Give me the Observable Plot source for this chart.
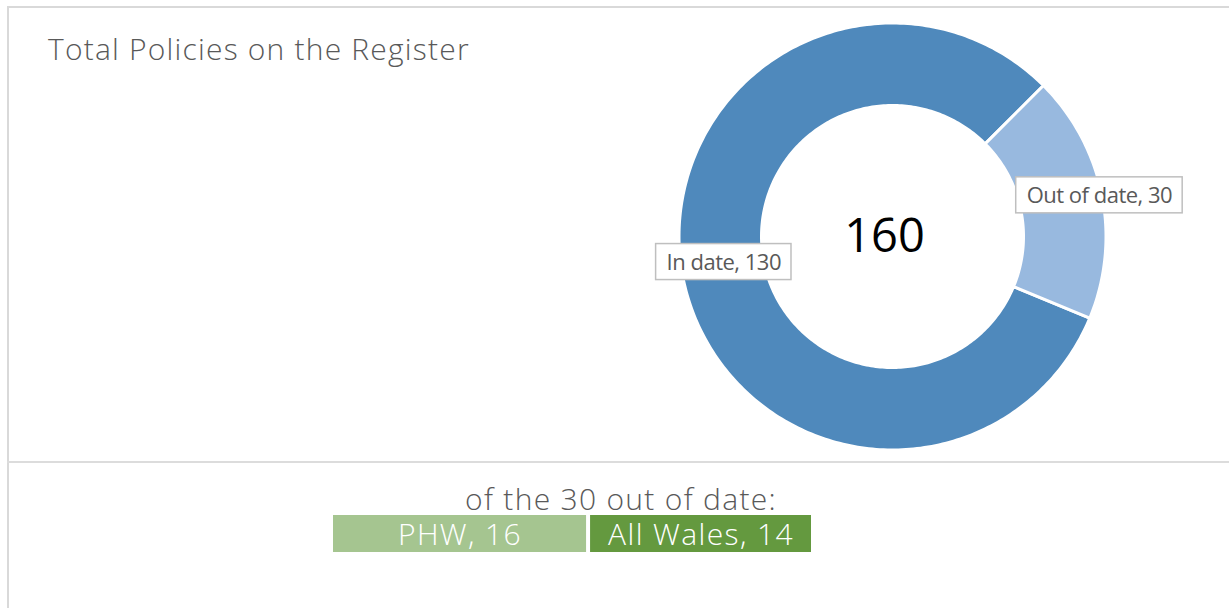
<!DOCTYPE html>
<html>
<head>
<meta charset="utf-8">
<script src="https://cdn.jsdelivr.net/npm/d3@7"></script>
<script src="https://cdn.jsdelivr.net/npm/@observablehq/plot@0.6"></script>
<style>
  html, body { margin: 0; padding: 0; background: #fff; }
  body { width: 1229px; height: 608px; position: relative; overflow: hidden; font-family: "Open Sans", sans-serif; }
  .frame-top { position: absolute; left: 7px; top: 6px; width: 1222px; height: 2px; background: #d9d9d9; }
  .frame-left { position: absolute; left: 7px; top: 6px; width: 2px; height: 602px; background: #d9d9d9; }
  .divider { position: absolute; left: 7px; top: 461px; width: 1222px; height: 2px; background: #dcdcdc; }
  .title { position: absolute; left: 48px; top: 34px; font-size: 30px; line-height: 30px; font-weight: 300; color: #595959; white-space: nowrap; letter-spacing: 1.2px; }
  .sub { position: absolute; left: 421px; top: 486px; width: 400px; text-align: center; font-size: 30px; line-height: 26px; font-weight: 300; color: #595959; white-space: nowrap; letter-spacing: 1.3px; }
  #donut { position: absolute; left: 591.5px; top: 5.5px; }
  #bar { position: absolute; left: 331px; top: 515px; }
</style>
</head>
<body>
<div class="frame-top"></div>
<div class="frame-left"></div>
<div class="divider"></div>
<div class="title">Total Policies on the Register</div>
<div class="sub">of the 30 out of date:</div>
<div id="donut"></div>
<div id="bar"></div>
<script>
// ---- data ----
const statusCategories = ["In date", "Out of date"];
const statusValues = [130, 30];
const statusColors = ["#4f89bc", "#98b9df"];
const breakdownCategories = ["PHW", "All Wales"];
const breakdownValues = [16, 14];
const breakdownColors = ["#a5c590", "#64993f"];

// ---- donut ----
const total = d3.sum(statusValues);
const W = 600, H = 460;
const R = 212, r = 132.5;
const startDeg = 112.5; // first slice angle (clockwise from top)
const pie = d3.pie().sort(null).startAngle(startDeg * Math.PI / 180).endAngle((startDeg + 360) * Math.PI / 180);
const arcs = pie(statusValues);

// polygon points for each ring segment (x right, y up)
function pt(a, rad) { return [rad * Math.sin(a), rad * Math.cos(a)]; }
const ringPts = [];
arcs.forEach((a, i) => {
  const n = Math.max(8, Math.ceil((a.endAngle - a.startAngle) * 180 / Math.PI));
  for (let k = 0; k <= n; k++) {
    const t = a.startAngle + (a.endAngle - a.startAngle) * k / n;
    const [x, y] = pt(t, R + 1.5);
    ringPts.push({cat: statusCategories[i], x, y});
  }
  for (let k = n; k >= 0; k--) {
    const t = a.startAngle + (a.endAngle - a.startAngle) * k / n;
    const [x, y] = pt(t, r - 1.5);
    ringPts.push({cat: statusCategories[i], x, y});
  }
});

// label anchors at mid-angle
const labelRadius = {"In date": 172, "Out of date": 211};
const labelNudgeY = {"In date": 8, "Out of date": 0};
const labelSize = 22, labelSpacing = -0.5;
const ctx = document.createElement("canvas").getContext("2d");
ctx.font = `${labelSize}px "Open Sans"`;
const labels = arcs.map((a, i) => {
  const mid = (a.startAngle + a.endAngle) / 2;
  const cat = statusCategories[i];
  let [x, y] = pt(mid, labelRadius[cat]);
  y += labelNudgeY[cat];
  const text = `${cat}, ${statusValues[i]}`;
  const w = ctx.measureText(text).width + labelSpacing * text.length;
  return {cat, text, x, y, x1: x - w / 2 - 10.5, x2: x + w / 2 + 10.5, y1: y - 18, y2: y + 18};
});

const donut = Plot.plot({
  width: W, height: H,
  margin: 0,
  x: {domain: [-W / 2, W / 2], axis: null},
  y: {domain: [-H / 2, H / 2], axis: null},
  color: {domain: statusCategories, range: statusColors},
  style: {background: "transparent", overflow: "visible"},
  marks: [
    Plot.line(ringPts, {x: "x", y: "y", z: "cat", fill: "cat", stroke: "white", strokeWidth: 3, curve: "linear-closed"}),
    Plot.rect(labels, {x1: "x1", x2: "x2", y1: "y1", y2: "y2", fill: "white", stroke: "#bfbfbf", strokeWidth: 1.5}),
    Plot.text(labels, {x: "x", y: "y", text: "text", fill: "#595959", fontSize: labelSize, fontFamily: "Open Sans", dy: 1, render(index, scales, values, dims, context, next) {
      const g = next(index, scales, values, dims, context);
      g.setAttribute("letter-spacing", labelSpacing);
      return g;
    }}),
    Plot.text([total], {x: () => -8, y: () => 0, text: d => String(d), fill: "#000", fontSize: 47, fontFamily: "Open Sans"})
  ]
});
document.getElementById("donut").appendChild(donut);

// ---- breakdown bar ----
const breakdown = breakdownCategories.map((c, i) => ({cat: c, value: breakdownValues[i], label: `${c}, ${breakdownValues[i]}`}));
const bar = Plot.plot({
  width: 482, height: 37,
  margin: 0,
  x: {domain: [0, d3.sum(breakdownValues)], axis: null},
  y: {axis: null},
  color: {domain: breakdownCategories, range: breakdownColors},
  style: {background: "transparent", overflow: "visible"},
  marks: [
    Plot.barX(breakdown, Plot.stackX({x: "value", fill: "cat", insetLeft: 2, insetRight: 2})),
    Plot.text(breakdown, Plot.stackX({x: "value", text: "label", fill: "white", fontSize: 30, fontWeight: 300, fontFamily: "Open Sans", dy: 1, render(index, scales, values, dims, context, next) {
      const g = next(index, scales, values, dims, context);
      g.setAttribute("letter-spacing", 1.4);
      return g;
    }}))
  ]
});
document.getElementById("bar").appendChild(bar);
</script>
</body>
</html>
